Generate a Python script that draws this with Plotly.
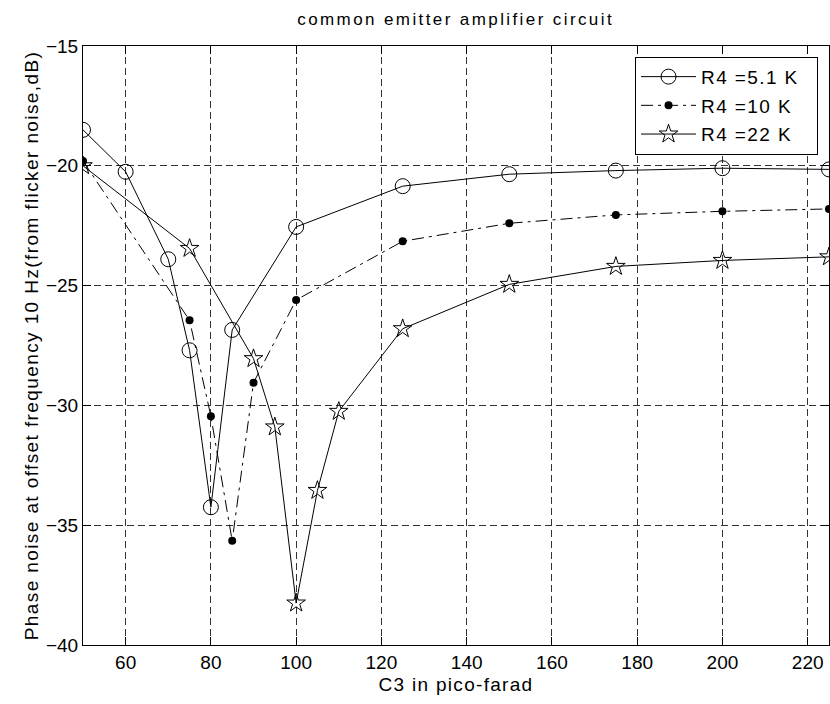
import plotly.graph_objects as go

# C3 (pF) and phase noise (dB) for each R4 value
c3_r51 = [50, 60, 70, 75, 80, 85, 100, 125, 150, 175, 200, 225]
pn_r51 = [-18.5, -20.25, -23.9, -27.7, -34.25, -26.85, -22.55, -20.85, -20.35, -20.2, -20.1, -20.15]

c3_r10 = [50, 75, 80, 85, 90, 100, 125, 150, 175, 200, 225]
pn_r10 = [-19.8, -26.45, -30.45, -35.65, -29.05, -25.6, -23.15, -22.4, -22.05, -21.9, -21.8]

c3_r22 = [50, 75, 90, 95, 100, 105, 110, 125, 150, 175, 200, 225]
pn_r22 = [-20.0, -23.45, -28.05, -30.9, -38.25, -33.55, -30.25, -26.8, -24.95, -24.2, -23.95, -23.8]

x_ticks = [60, 80, 100, 120, 140, 160, 180, 200, 220]
y_ticks = [-40, -35, -30, -25, -20, -15]

FONT = "Liberation Sans, Arial, Helvetica, sans-serif"

fig = go.Figure()
fig.add_trace(go.Scatter(
    x=c3_r51, y=pn_r51, name="R4 =5.1 K", mode="lines+markers", legendgroup="a",
    line=dict(color="black", width=1),
    marker=dict(symbol="circle-open", size=15, color="black", line=dict(width=1)),
))
fig.add_trace(go.Scatter(
    x=c3_r10, y=pn_r10, name="R4 =10 K", mode="lines+markers", legendgroup="b",
    line=dict(color="black", width=1, dash="12px,5px,3px,5px"),
    marker=dict(symbol="circle", size=8, color="black"),
))
fig.add_trace(go.Scatter(
    x=c3_r22, y=pn_r22, name="R4 =22 K", mode="lines+markers", legendgroup="c",
    line=dict(color="black", width=1),
    marker=dict(symbol="star-open", size=14, color="black", line=dict(width=1)),
))

axis_common = dict(
    showline=True, linecolor="black", linewidth=1, mirror="ticks",
    ticks="inside", ticklen=8, tickcolor="black",
    showgrid=True, gridcolor="#333333", gridwidth=1, griddash="7px,4px",
    zeroline=False,
    tickfont=dict(family=FONT, size=19, color="black"),
)

fig.update_xaxes(
    range=[50, 225], tickvals=x_ticks,
    title=dict(text="C3 in pico-farad", font=dict(family=FONT, size=19, color="black"), standoff=5),
    **axis_common,
)
fig.update_yaxes(
    range=[-40, -15], tickvals=y_ticks,
    title=dict(text="Phase noise at offset frequency 10 Hz(from flicker noise,dB)",
               font=dict(family=FONT, size=19, color="black"), standoff=2),
    **axis_common,
)

fig.update_layout(
    width=830, height=704,
    margin=dict(l=83, r=1, t=46, b=59),
    paper_bgcolor="white", plot_bgcolor="white",
    title=dict(text="common emitter amplifier circuit", x=0.549, xanchor="center",
               y=0.973, yanchor="middle", font=dict(family=FONT, size=17, color="black")),
    legend=dict(
        x=0.74, y=0.982, xanchor="left", yanchor="top",
        bgcolor="white", bordercolor="black", borderwidth=1,
        font=dict(family=FONT, size=19, color="black"),
        itemwidth=55, tracegroupgap=1,
    ),
    showlegend=True,
)

# Widen letter spacing of the text labels after drawing, and widen the
# legend box so the spaced-out entries fit inside it
post_js = """
var gd = document.getElementById('{plot_id}');
function spread(sel, px) {
  gd.querySelectorAll(sel).forEach(function (t) { t.style.letterSpacing = px; });
}
spread('.gtitle', '2.4px');
spread('.xtitle', '1.3px');
spread('.ytitle', '1.4px');
spread('.legendtext', '1.4px');
var LEGEND_W = 183;
gd.querySelectorAll('.legend rect.bg').forEach(function (r) {
  r.setAttribute('width', LEGEND_W - 1);
});
document.querySelectorAll('clipPath[id^="legend"] rect').forEach(function (r) {
  r.setAttribute('width', LEGEND_W);
});
"""

fig.write_html("out.html", post_script=post_js)
